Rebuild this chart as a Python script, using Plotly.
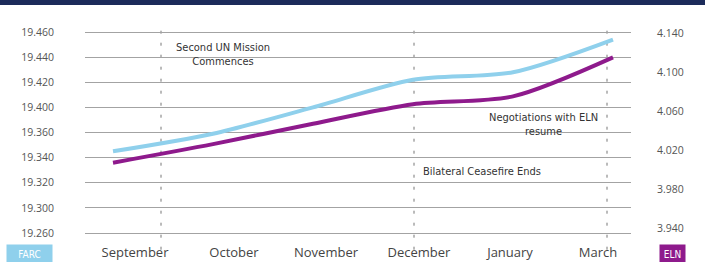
import plotly.graph_objects as go

# ---------------- data ----------------
months = ["September", "October", "November", "December", "January", "March"]
farc = [19.365, 19.379, 19.400, 19.422, 19.428, 19.454]   # left axis
eln = [4.007, 4.026, 4.047, 4.067, 4.075, 4.115]          # right axis

left_tickvals = [19.46, 19.44, 19.42, 19.40, 19.38, 19.36, 19.34, 19.32, 19.30]
left_ticktext = ["19.460", "19.440", "19.420", "19.400", "19.360", "19.340", "19.320", "19.300", "19.260"]
right_tickvals = [4.14, 4.10, 4.06, 4.02, 3.98, 3.94]
right_ticktext = ["4.140", "4.100", "4.060", "4.020", "3.980", "3.940"]

events = ["Second UN Mission<br>Commences", "Negotiations with ELN<br>resume", "Bilateral Ceasefire Ends"]

# ---------------- layout helpers ----------------
x_idx = list(range(len(months)))
label_pos = [0.22, 1.21, 2.13, 3.06, 3.97, 4.85]
marker_lines = [0.48, 3.01, 4.94]

BLUE = "#8fd0ec"
PURPLE = "#8e1a8c"
TXT = "#333333"
NUMFONT = "Open Sans, Liberation Sans, sans-serif"
NARROW = "Liberation Sans Narrow, DejaVu Sans Condensed, Roboto Condensed, sans-serif"

fig = go.Figure()
fig.add_trace(go.Scatter(x=x_idx, y=farc, mode="lines", name="FARC",
                         line=dict(color=BLUE, width=4, shape="spline", smoothing=0.8),
                         yaxis="y"))
fig.add_trace(go.Scatter(x=x_idx, y=eln, mode="lines", name="ELN",
                         line=dict(color=PURPLE, width=4, shape="spline", smoothing=0.8),
                         yaxis="y2"))

shapes = []
for v in marker_lines:
    shapes.append(dict(type="line", xref="x", yref="paper", x0=v, x1=v, y0=-0.03, y1=0.99,
                       line=dict(color="#777777", width=1, dash="3px,9px"), layer="below"))
# top navy band
shapes.append(dict(type="rect", xref="paper", yref="paper",
                   x0=-85 / 546, x1=(705 - 85) / 546, y0=1 + 15 / 223, y1=1 + 21 / 223,
                   fillcolor="#1c2b5a", line=dict(width=0)))

annotations = [
    dict(x=1.10, y=19.4417, xref="x", yref="y", text=events[0], showarrow=False,
         font=dict(family=NARROW, size=11, color=TXT), align="center"),
    dict(x=4.30, y=19.386, xref="x", yref="y", text=events[1], showarrow=False,
         font=dict(family=NARROW, size=11, color=TXT), align="center"),
    dict(x=3.08, y=19.3486, xref="x", yref="y", text=events[2], showarrow=False,
         xanchor="left", font=dict(family=NARROW, size=11, color=TXT)),
    dict(x=(29.5 - 85) / 546, y=(243 - 254) / 223, xref="paper", yref="paper", text="FARC",
         xanchor="center", yanchor="middle",
         showarrow=False, bgcolor=BLUE, width=45, height=18, borderpad=0,
         font=dict(family=NARROW, size=10, color="white")),
    dict(x=(672.5 - 85) / 546, y=(243 - 254) / 223, xref="paper", yref="paper", text="ELN",
         xanchor="center", yanchor="middle",
         showarrow=False, bgcolor=PURPLE, width=25, height=18, borderpad=0,
         font=dict(family=NARROW, size=10, color="white")),
]

fig.update_layout(
    width=705, height=262,
    margin=dict(l=85, r=74, t=20, b=19),
    paper_bgcolor="white", plot_bgcolor="white",
    showlegend=False,
    xaxis=dict(range=[-0.28, 5.18], tickmode="array", tickvals=label_pos, ticktext=months,
               showgrid=False, zeroline=False, showline=False, ticks="", automargin=False,
               tickfont=dict(family=NUMFONT, size=13, color="#444444")),
    yaxis=dict(range=[19.29204, 19.46955], tickmode="array", tickvals=left_tickvals,
               ticktext=left_ticktext, showgrid=True, gridcolor="#a3a3a3", gridwidth=1.2,
               zeroline=False, showline=False, ticks="", ticklabelstandoff=30, automargin=False,
               tickfont=dict(family=NUMFONT, size=10.5, color="#555555")),
    yaxis2=dict(range=[3.92462, 4.15333], overlaying="y", side="right", tickmode="array",
                tickvals=right_tickvals, ticktext=right_ticktext, showgrid=False,
                zeroline=False, showline=False, ticks="", ticklabelstandoff=25, automargin=False,
                tickfont=dict(family=NUMFONT, size=10.5, color="#555555")),
    shapes=shapes,
    annotations=annotations,
)

fig.write_html("out.html", config={"displayModeBar": False},
               post_script="document.body.style.margin='0';document.body.style.overflow='hidden';")
